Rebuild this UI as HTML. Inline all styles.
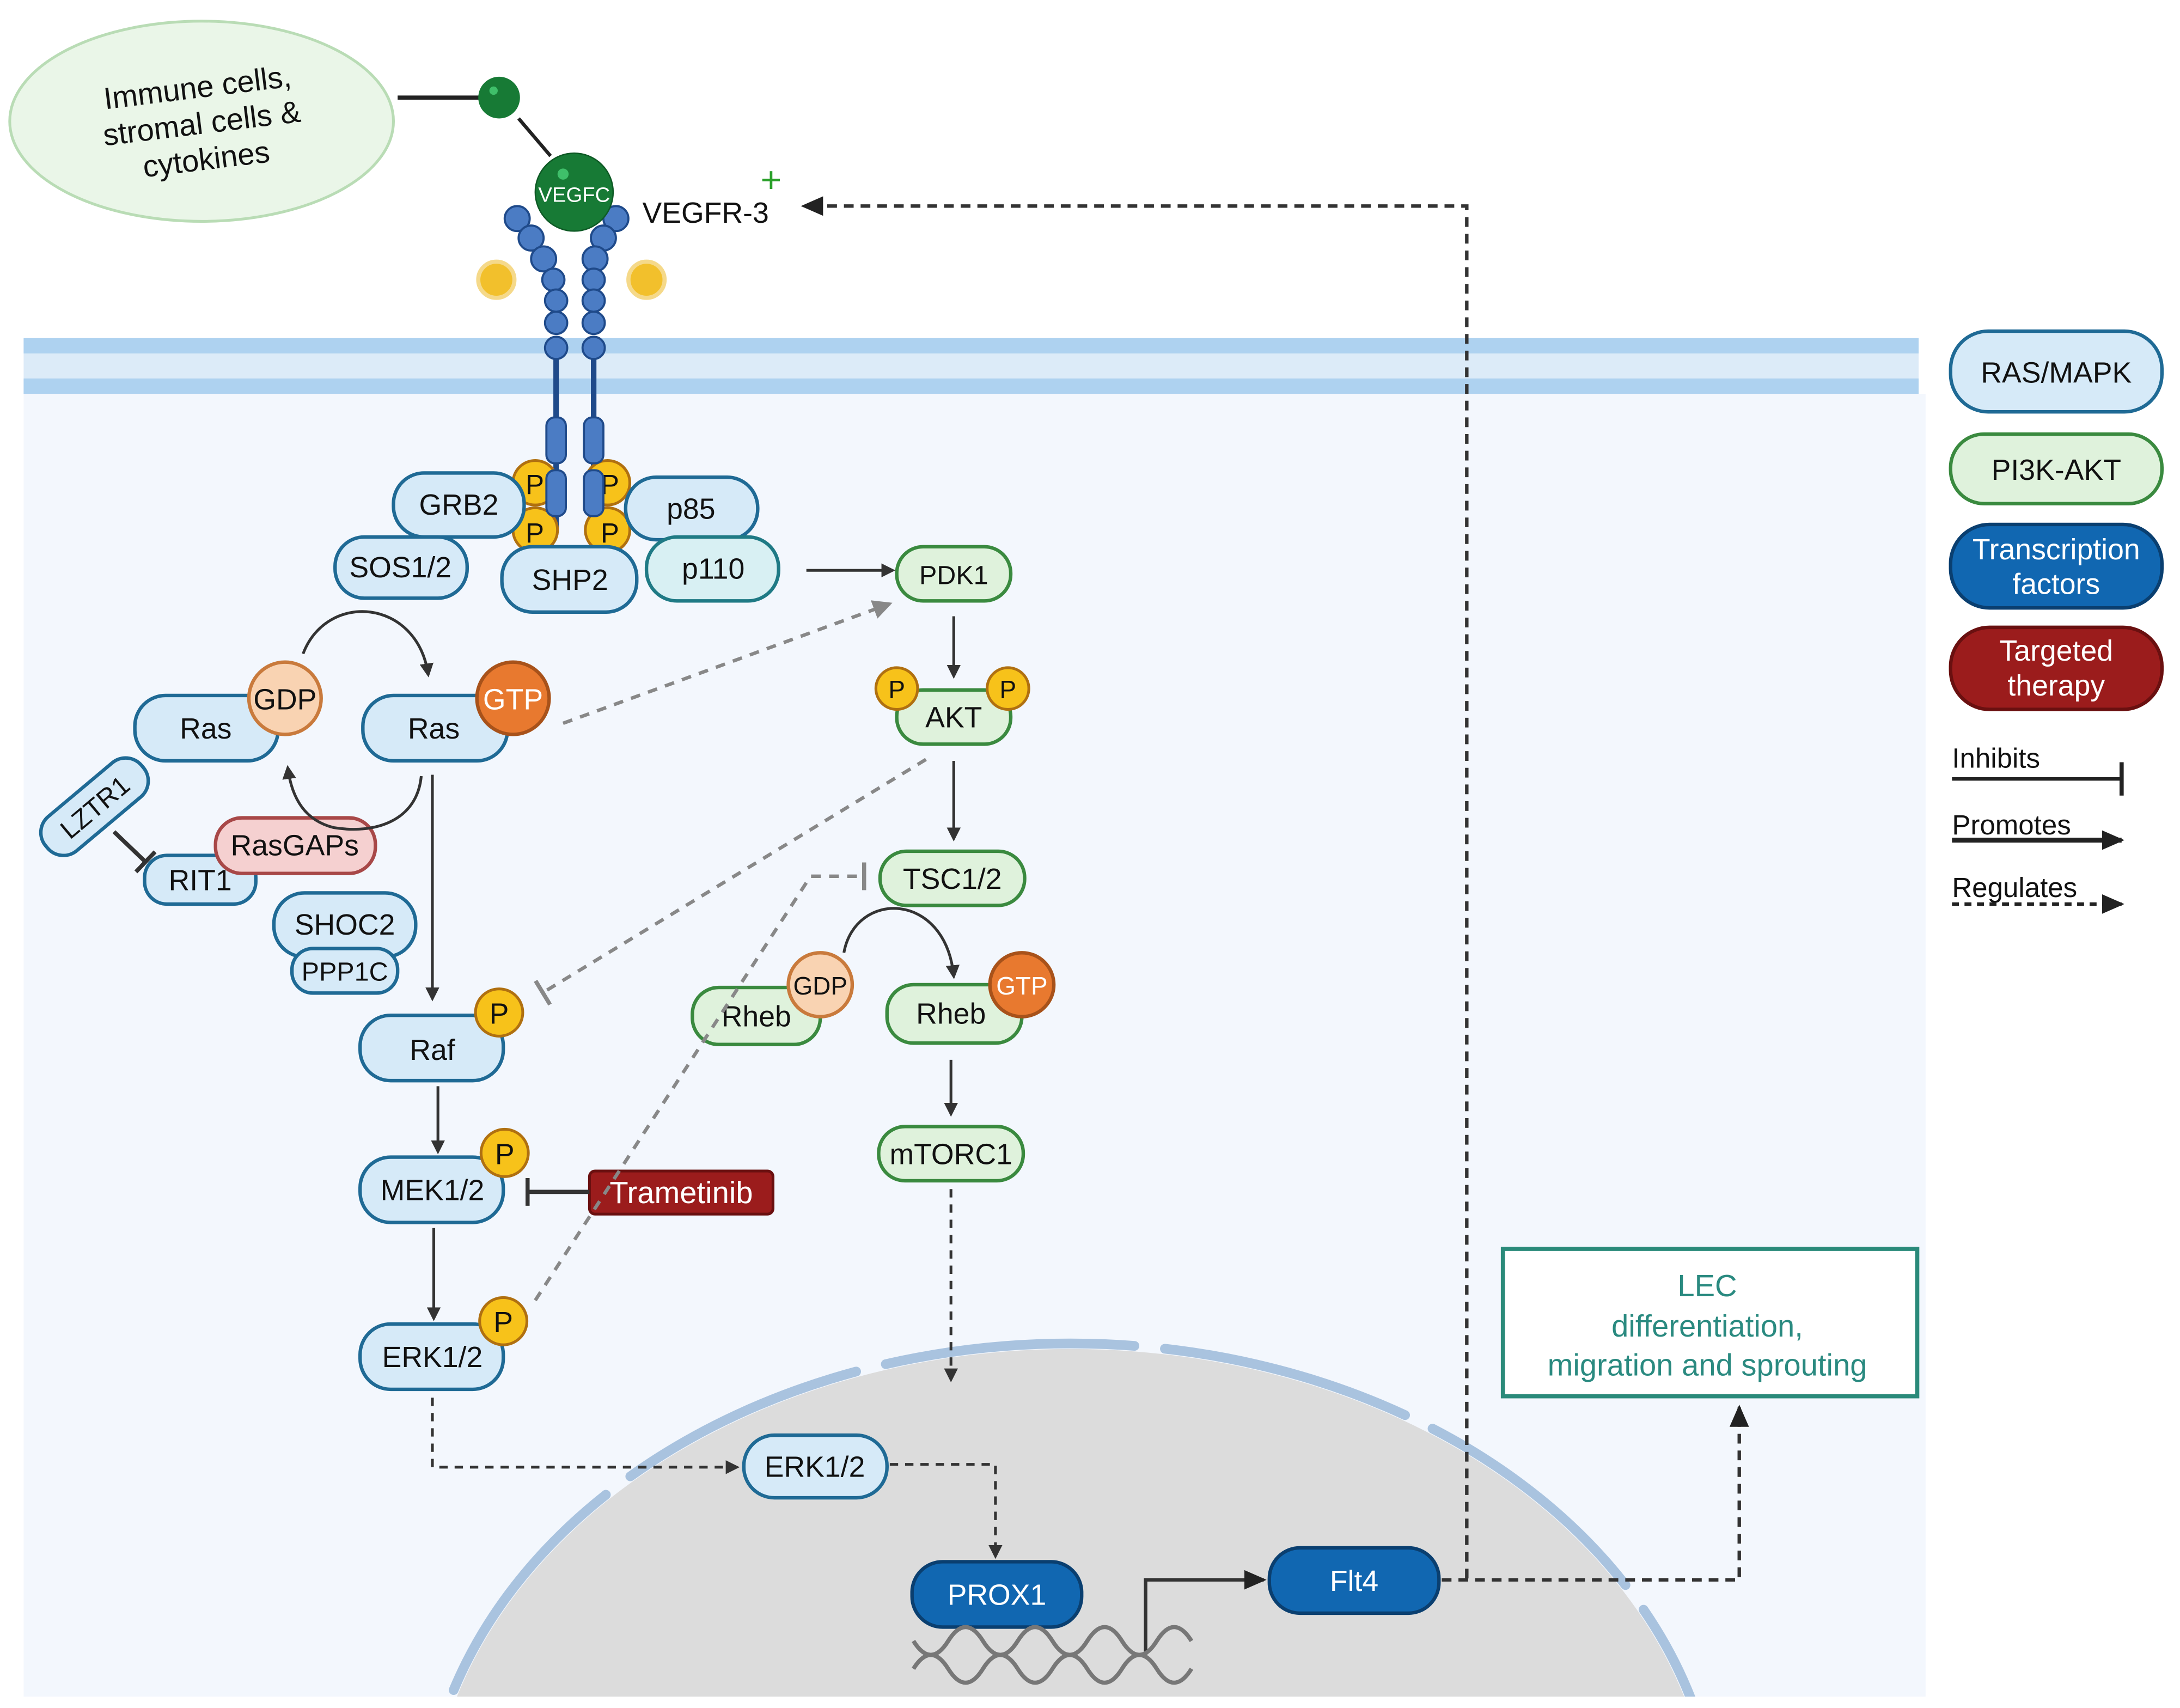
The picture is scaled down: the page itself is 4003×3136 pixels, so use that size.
<!DOCTYPE html>
<html><head><meta charset="utf-8"><style>
html,body{margin:0;padding:0;background:#fff;overflow:hidden;width:4003px;height:3136px}
svg{display:block}
text{font-family:"Liberation Sans",sans-serif}
</style></head><body>
<svg width="4003" height="3136" viewBox="0 0 1568 1228" xmlns="http://www.w3.org/2000/svg">
<defs>
<marker id="ab" markerWidth="10" markerHeight="10" refX="8" refY="5" orient="auto" markerUnits="userSpaceOnUse"><path d="M0,0 L10,5 L0,10 z" fill="#333"/></marker>
<marker id="ag" markerWidth="14" markerHeight="14" refX="12" refY="7" orient="auto" markerUnits="userSpaceOnUse"><path d="M0,0 L14,7 L0,14 z" fill="#888"/></marker>
<marker id="abig" markerWidth="16" markerHeight="14" refX="14" refY="7" orient="auto" markerUnits="userSpaceOnUse"><path d="M0,0 L16,7 L0,14 z" fill="#222"/></marker>
<marker id="tb" markerWidth="4" markerHeight="20" refX="2" refY="10" orient="auto" markerUnits="userSpaceOnUse"><rect x="0" y="0" width="3" height="20" fill="#333"/></marker>
<marker id="tg" markerWidth="4" markerHeight="20" refX="2" refY="10" orient="auto" markerUnits="userSpaceOnUse"><rect x="0" y="0" width="3" height="20" fill="#888"/></marker>
<clipPath id="cell"><rect x="17" y="283" width="1368" height="937"/></clipPath>
</defs>
<rect x="17" y="283" width="1368" height="937" fill="#f3f7fd"/>
<rect x="17" y="243" width="1363" height="40" fill="#dcebf8"/>
<rect x="17" y="243" width="1363" height="11" fill="#aed2f0"/>
<rect x="17" y="272" width="1363" height="11" fill="#aed2f0"/>
<g clip-path="url(#cell)">
<ellipse cx="770" cy="1325" rx="462" ry="355" fill="#dcdcdc"/>
<ellipse cx="770" cy="1325" rx="466" ry="359" fill="none" stroke="#a9c3df" stroke-width="7" stroke-dasharray="180 22" stroke-linecap="round"/>
</g>
<ellipse cx="145" cy="87" rx="138" ry="72" fill="#eaf6e8" stroke="#b9dcb5" stroke-width="2"/>
<g transform="rotate(-7 145 87)" font-size="22" text-anchor="middle" fill="#111">
<text x="145" y="70">Immune cells,</text><text x="145" y="96">stromal cells &amp;</text><text x="145" y="122">cytokines</text></g>
<line x1="286" y1="70" x2="345" y2="70" stroke="#222" stroke-width="3"/>
<line x1="373" y1="85" x2="396" y2="112" stroke="#222" stroke-width="2.5"/>
<circle cx="359" cy="70" r="15" fill="#177a35"/><circle cx="355" cy="65" r="3" fill="#3fbf6a"/>
<g fill="#4b7cc4" stroke="#1f4a8a" stroke-width="1.5">
<line x1="400" y1="255" x2="400" y2="380" stroke="#1f4a8a" stroke-width="4"/>
<line x1="427" y1="255" x2="427" y2="380" stroke="#1f4a8a" stroke-width="4"/>
<circle cx="372" cy="157" r="9"/><circle cx="382" cy="171" r="9"/><circle cx="391" cy="186" r="9"/><circle cx="398" cy="201" r="8"/><circle cx="400" cy="216" r="8"/><circle cx="400" cy="232" r="8"/><circle cx="400" cy="250" r="8"/>
<circle cx="443" cy="157" r="9"/><circle cx="434" cy="171" r="9"/><circle cx="428" cy="186" r="9"/><circle cx="427" cy="201" r="8"/><circle cx="427" cy="216" r="8"/><circle cx="427" cy="232" r="8"/><circle cx="427" cy="250" r="8"/>
</g>
<g fill="#f7c21a" stroke="#b07010" stroke-width="2">
<circle cx="385" cy="347" r="16"/><circle cx="385" cy="381" r="16"/><circle cx="437" cy="347" r="16"/><circle cx="437" cy="381" r="16"/></g>
<g font-size="20" fill="#111"><text x="378" y="355">P</text><text x="378" y="390">P</text><text x="432" y="355">P</text><text x="432" y="390">P</text></g>
<g fill="#4b7cc4" stroke="#1f4a8a" stroke-width="1.5">
<rect x="393" y="300" width="14" height="33" rx="6"/><rect x="420" y="300" width="14" height="33" rx="6"/>
<rect x="393" y="338" width="14" height="33" rx="6"/><rect x="420" y="338" width="14" height="33" rx="6"/></g>
<circle cx="413" cy="138" r="28" fill="#177a35" stroke="#0e5a25"/><circle cx="405" cy="125" r="4" fill="#3fbf6a"/>
<text x="413" y="145" font-size="15" fill="#fff" text-anchor="middle">VEGFC</text>
<circle cx="357" cy="201" r="13" fill="#f2c02c" stroke="#f5d98a" stroke-width="3"/>
<circle cx="465" cy="201" r="13" fill="#f2c02c" stroke="#f5d98a" stroke-width="3"/>
<text x="462" y="160" font-size="21" fill="#111">VEGFR-3</text>
<text x="547" y="138" font-size="26" fill="#2aa02a">+</text>
<polyline points="1055,1135 1055,148 578,148" fill="none" stroke="#333" stroke-width="2.5" stroke-dasharray="7 5" marker-end="url(#abig)"/>

<g font-size="21" text-anchor="middle" fill="#111">
<g fill="#d6eaf8" stroke="#1f6a95" stroke-width="2.5">
<rect x="283" y="340" width="94" height="46" rx="22"/>
<rect x="450" y="343" width="95" height="45" rx="22"/>
<rect x="241" y="386" width="95" height="44" rx="21"/>
<rect x="361" y="393" width="97" height="47" rx="22"/>
<rect x="97" y="500" width="103" height="47" rx="22"/>
<rect x="261" y="500" width="104" height="47" rx="22"/>
<rect x="104" y="615" width="80" height="35" rx="16"/>
<rect x="197" y="642" width="102" height="46" rx="22"/>
<rect x="210" y="682" width="76" height="32" rx="15"/>
<rect x="259" y="730" width="103" height="47" rx="22"/>
<rect x="259" y="832" width="103" height="47" rx="22"/>
<rect x="259" y="952" width="103" height="47" rx="22"/>
<rect x="535" y="1032" width="103" height="45" rx="22"/>
<rect x="-45" y="-16" width="90" height="32" rx="15" transform="translate(68,580) rotate(-40)"/>
</g>
<rect x="465" y="386" width="95" height="46" rx="22" fill="#d8f0f3" stroke="#1f7a85" stroke-width="2.5"/>
<text x="330" y="370">GRB2</text><text x="497" y="373">p85</text><text x="513" y="416">p110</text>
<text x="288" y="415">SOS1/2</text><text x="410" y="424">SHP2</text>
<text x="148" y="531">Ras</text><text x="312" y="531">Ras</text>
<text x="144" y="640">RIT1</text><text x="248" y="672">SHOC2</text><text x="248" y="705" font-size="19">PPP1C</text>
<text x="311" y="762">Raf</text><text x="311" y="863">MEK1/2</text><text x="311" y="983">ERK1/2</text>
<text x="586" y="1062">ERK1/2</text>
<text x="0" y="7" font-size="19" transform="translate(68,580) rotate(-40)">LZTR1</text>
<rect x="155" y="588" width="115" height="40" rx="19" fill="#f5d0d0" stroke="#a84848" stroke-width="2.5"/>
<text x="212" y="615">RasGAPs</text>
<circle cx="205" cy="502" r="26" fill="#f9d3b2" stroke="#c97a3c" stroke-width="2.5"/><text x="205" y="510">GDP</text>
<circle cx="369" cy="502" r="26" fill="#e8792f" stroke="#a8521a" stroke-width="2.5"/><text x="369" y="510" fill="#fff">GTP</text>
<g fill="#f7c21a" stroke="#b07010" stroke-width="2">
<circle cx="359" cy="728" r="17"/><circle cx="363" cy="829" r="17"/><circle cx="362" cy="950" r="17"/></g>
<text x="359" y="736">P</text><text x="363" y="837">P</text><text x="362" y="958">P</text>
<g fill="#dff2dc" stroke="#3a8a3f" stroke-width="2.5">
<rect x="645" y="393" width="82" height="39" rx="19"/>
<rect x="645" y="496" width="82" height="39" rx="19"/>
<rect x="633" y="612" width="104" height="39" rx="19"/>
<rect x="498" y="710" width="92" height="41" rx="19"/>
<rect x="638" y="708" width="97" height="42" rx="19"/>
<rect x="632" y="810" width="104" height="39" rx="19"/>
</g>
<g fill="#f7c21a" stroke="#b07010" stroke-width="2">
<circle cx="645" cy="495" r="15"/><circle cx="725" cy="495" r="15"/></g>
<text x="645" y="502" font-size="18">P</text><text x="725" y="502" font-size="18">P</text>
<text x="686" y="420" font-size="19">PDK1</text><text x="686" y="523">AKT</text>
<text x="685" y="639">TSC1/2</text><text x="544" y="738">Rheb</text><text x="684" y="736">Rheb</text>
<text x="684" y="837">mTORC1</text>
<circle cx="590" cy="708" r="23" fill="#f9d3b2" stroke="#c97a3c" stroke-width="2.5"/><text x="590" y="715" font-size="18">GDP</text>
<circle cx="735" cy="708" r="23" fill="#e8792f" stroke="#a8521a" stroke-width="2.5"/><text x="735" y="715" font-size="18" fill="#fff">GTP</text>
<rect x="424" y="842" width="132" height="31" rx="4" fill="#9b1c1c" stroke="#6a1010" stroke-width="2"/>
<text x="490" y="865" fill="#fff" font-size="22">Trametinib</text>
<rect x="656" y="1123" width="122" height="47" rx="22" fill="#1167b1" stroke="#0a3f70" stroke-width="2.5"/>
<text x="717" y="1154" fill="#fff">PROX1</text>
<rect x="913" y="1113" width="122" height="47" rx="22" fill="#1167b1" stroke="#0a3f70" stroke-width="2.5"/>
<text x="974" y="1144" fill="#fff">Flt4</text>
</g>

<g fill="none" stroke="#333" stroke-width="2">
<path d="M218,470 C235,425 300,430 308,485" marker-end="url(#ab)"/>
<path d="M303,558 C300,590 270,600 240,595 C220,590 210,575 207,552" marker-end="url(#ab)"/>
<line x1="82" y1="598" x2="105" y2="620" stroke-width="3" marker-end="url(#tb)"/>
<line x1="311" y1="557" x2="311" y2="718" marker-end="url(#ab)"/>
<line x1="315" y1="781" x2="315" y2="828" marker-end="url(#ab)"/>
<line x1="312" y1="883" x2="312" y2="948" marker-end="url(#ab)"/>
<line x1="424" y1="857" x2="379" y2="857" stroke-width="3" marker-end="url(#tb)"/>
<line x1="580" y1="410" x2="642" y2="410" marker-end="url(#ab)"/>
<line x1="686" y1="443" x2="686" y2="486" marker-end="url(#ab)"/>
<line x1="686" y1="547" x2="686" y2="603" marker-end="url(#ab)"/>
<path d="M607,685 C615,640 680,640 686,702" marker-end="url(#ab)"/>
<line x1="684" y1="762" x2="684" y2="801" marker-end="url(#ab)"/>
<line x1="684" y1="855" x2="684" y2="992" stroke-dasharray="6 5" marker-end="url(#ab)"/>
<polyline points="311,1005 311,1055 530,1055" stroke-dasharray="6 5" marker-end="url(#ab)"/>
<polyline points="640,1053 716,1053 716,1119" stroke-dasharray="6 5" marker-end="url(#ab)"/>
<polyline points="824,1192 824,1136 909,1136" stroke-width="2.5" marker-end="url(#abig)"/>
<polyline points="1037,1136 1251,1136 1251,1012" stroke-width="2.5" stroke-dasharray="7 5" marker-end="url(#abig)"/>
</g>
<g fill="none" stroke="#888" stroke-width="2.5" stroke-dasharray="7 6">
<line x1="405" y1="520" x2="640" y2="434" marker-end="url(#ag)"/>
<line x1="666" y1="546" x2="390" y2="714" marker-end="url(#tg)"/>
<polyline points="385,935 583,630 622,630" marker-end="url(#tg)"/>
</g>
<g fill="none" stroke="#777" stroke-width="3">
<path d="M657,1180 q12.5,20 25,0 t25,0 t25,0 t25,0 t25,0 t25,0 t25,0 t25,0"/>
<path d="M657,1200 q12.5,-20 25,0 t25,0 t25,0 t25,0 t25,0 t25,0 t25,0 t25,0"/>
</g>
<rect x="1081" y="898" width="298" height="106" fill="#fff" stroke="#2a8a7a" stroke-width="3"/>
<g font-size="22" fill="#2a8a80" text-anchor="middle">
<text x="1228" y="932">LEC</text><text x="1228" y="961">differentiation,</text><text x="1228" y="989">migration and sprouting</text></g>
<g font-size="21" text-anchor="middle">
<rect x="1403" y="238" width="152" height="58" rx="27" fill="#d6eaf8" stroke="#1f6a95" stroke-width="2.5"/>
<text x="1479" y="275" fill="#111">RAS/MAPK</text>
<rect x="1403" y="312" width="152" height="50" rx="24" fill="#dff2dc" stroke="#3a8a3f" stroke-width="2.5"/>
<text x="1479" y="345" fill="#111">PI3K-AKT</text>
<rect x="1403" y="377" width="152" height="60" rx="28" fill="#1167b1" stroke="#0a3f70" stroke-width="2.5"/>
<text x="1479" y="402" fill="#fff">Transcription</text><text x="1479" y="427" fill="#fff">factors</text>
<rect x="1403" y="451" width="152" height="59" rx="28" fill="#9b1c1c" stroke="#6a1010" stroke-width="2.5"/>
<text x="1479" y="475" fill="#fff">Targeted</text><text x="1479" y="500" fill="#fff">therapy</text>
</g>
<g font-size="20" fill="#111">
<text x="1404" y="552">Inhibits</text><text x="1404" y="600">Promotes</text><text x="1404" y="645">Regulates</text></g>
<line x1="1404" y1="560" x2="1526" y2="560" stroke="#222" stroke-width="2.5"/>
<line x1="1526" y1="548" x2="1526" y2="572" stroke="#222" stroke-width="3"/>
<line x1="1404" y1="604" x2="1526" y2="604" stroke="#222" stroke-width="3.5" marker-end="url(#abig)"/>
<line x1="1404" y1="650" x2="1526" y2="650" stroke="#222" stroke-width="2.5" stroke-dasharray="5 4" marker-end="url(#abig)"/>
</svg>
</body></html>
